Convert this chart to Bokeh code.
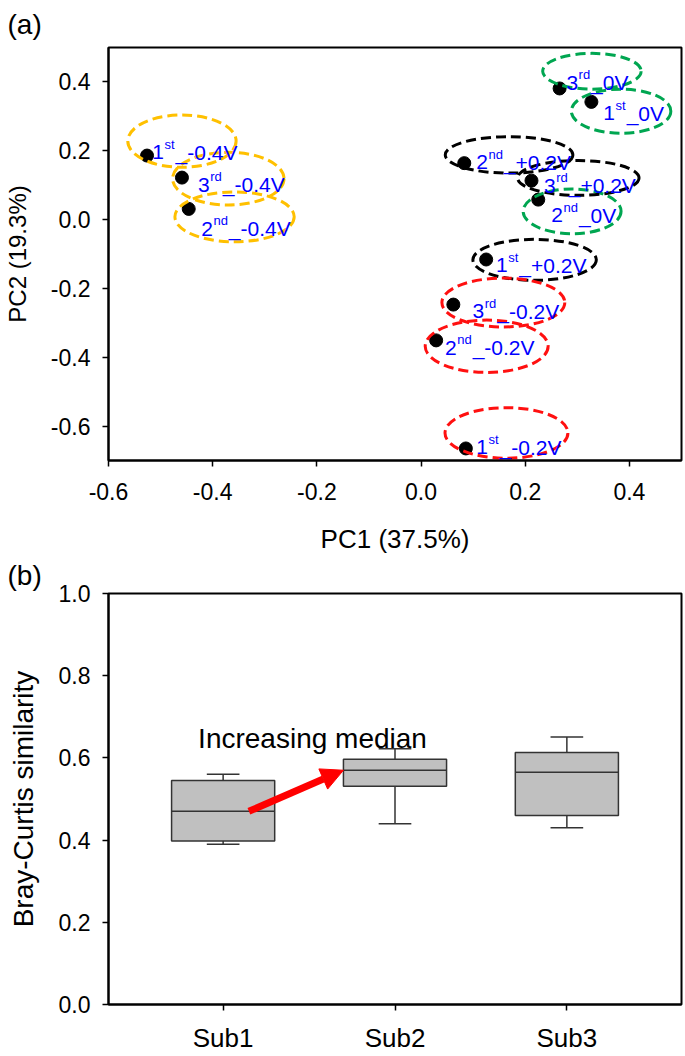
import numpy as np
from bokeh.plotting import figure
from bokeh.layouts import column
from bokeh.models import (ColumnDataSource, FixedTicker, PrintfTickFormatter,
                          Label, Arrow, NormalHead, Range1d)
from bokeh.embed import file_html
from bokeh.resources import INLINE
from bokeh.core.properties import value

FONT = "Liberation Sans"

# ---------------- Panel (a): PCA ----------------
sample_run = ["1st", "3rd", "2nd", "3rd", "1st", "2nd",
              "2nd", "3rd", "1st", "3rd", "2nd", "1st"]
sample_volt = ["-0.4V", "-0.4V", "-0.4V", "0V", "0V", "0V",
               "+0.2V", "+0.2V", "+0.2V", "-0.2V", "-0.2V", "-0.2V"]
pc1 = [-0.526, -0.459, -0.446, 0.266, 0.327, 0.225,
       0.083, 0.212, 0.125, 0.062, 0.029, 0.086]
pc2 = [0.186, 0.122, 0.031, 0.381, 0.342, 0.058,
       0.164, 0.113, -0.116, -0.247, -0.351, -0.665]

# dashed ellipses around each sample (center, width, height in PC units)
ell_x = [-0.459, -0.370, -0.358, 0.328, 0.384, 0.290,
         0.169, 0.302, 0.218, 0.158, 0.126, 0.164]
ell_y = [0.228, 0.119, 0.008, 0.431, 0.315, 0.024,
         0.188, 0.121, -0.117, -0.241, -0.368, -0.620]
ell_w = [0.208, 0.214, 0.229, 0.189, 0.191, 0.188,
         0.245, 0.233, 0.237, 0.236, 0.236, 0.236]
ell_h = [0.152, 0.153, 0.145, 0.104, 0.128, 0.130,
         0.106, 0.101, 0.119, 0.142, 0.152, 0.147]

# label anchors (left, baseline)
lab_x = [-0.516, -0.428, -0.422, 0.279, 0.350, 0.250,
         0.106, 0.236, 0.144, 0.099, 0.046, 0.106]
lab_y = [0.196, 0.101, -0.026, 0.398, 0.309, 0.012,
         0.167, 0.099, -0.132, -0.267, -0.373, -0.662]

volt_colors = {"-0.4V": "#FFC000", "0V": "#00A651",
               "+0.2V": "#000000", "-0.2V": "#FF1010"}

xticks_a = [-0.6, -0.4, -0.2, 0.0, 0.2, 0.4]
yticks_a = [-0.6, -0.4, -0.2, 0.0, 0.2, 0.4]

# ---------------- Panel (b): box plot ----------------
categories = ["Sub1", "Sub2", "Sub3"]
whisker_low = [0.390, 0.440, 0.430]
q1 = [0.398, 0.531, 0.460]
median = [0.470, 0.570, 0.565]
q3 = [0.545, 0.597, 0.613]
whisker_high = [0.560, 0.622, 0.651]
yticks_b = [0.0, 0.2, 0.4, 0.6, 0.8, 1.0]

# ---------------- helpers ----------------
LF, SF = 21, 13
cw = {"s": 0.5, "t": 0.278, "r": 0.333, "d": 0.556, "n": 0.556}


def style_axes(p, tick_size):
    p.xgrid.visible = False
    p.ygrid.visible = False
    p.outline_line_color = "black"
    p.outline_line_width = 2
    p.outline_line_alpha = 1.0
    for ax in (p.xaxis[0], p.yaxis[0]):
        ax.axis_line_width = 2
        ax.axis_line_color = "black"
        ax.major_tick_out = 6
        ax.major_tick_in = 0
        ax.major_tick_line_width = 1.5
        ax.minor_tick_line_color = None
        ax.major_label_text_font = FONT
        ax.major_label_text_font_size = tick_size
        ax.major_label_text_color = "black"
        ax.axis_label_text_font = FONT
        ax.axis_label_text_font_style = "normal"
        ax.axis_label_text_color = "black"


def panel_title(t, text, standoff):
    t.text = text
    t.align = "left"
    t.offset = -101
    t.text_font = FONT
    t.text_font_size = "28px"
    t.text_font_style = "normal"
    t.text_color = "black"
    t.standoff = standoff
    t.vertical_align = "top"


# ---------------- figure (a) ----------------
p1 = figure(width=684, height=556, x_range=Range1d(-0.6, 0.5), y_range=Range1d(-0.7, 0.5),
            output_backend="svg", toolbar_location=None,
            min_border_left=105, min_border_right=3, min_border_top=47, min_border_bottom=94)
style_axes(p1, "23px")
panel_title(p1.title, "(a)", 12)
p1.xaxis.ticker = FixedTicker(ticks=xticks_a)
p1.yaxis.ticker = FixedTicker(ticks=yticks_a)
p1.xaxis.formatter = PrintfTickFormatter(format="%.1f")
p1.yaxis.formatter = PrintfTickFormatter(format="%.1f")
p1.xaxis.axis_label = "PC1 (37.5%)"
p1.yaxis.axis_label = "PC2 (19.3%)"
p1.xaxis.axis_label_text_font_size = "26px"
p1.yaxis.axis_label_text_font_size = "24px"
p1.xaxis.major_label_standoff = 16
p1.yaxis.major_label_standoff = 12
p1.xaxis.axis_label_standoff = 21
p1.yaxis.axis_label_standoff = 17

base = [r[0] for r in sample_run]
sup = [r[1:] for r in sample_run]
rest = ["_" + v for v in sample_volt]
sup_off = [0.556 * LF + 0.5 for _ in base]
rest_off = [0.556 * LF + sum(cw[c] for c in s) * SF + 1.5 for s in sup]

src = ColumnDataSource(dict(
    pc1=pc1, pc2=pc2, ex=ell_x, ey=ell_y, ew=ell_w, eh=ell_h,
    lx=lab_x, ly=lab_y, base=base, sup=sup, rest=rest,
    sup_off=sup_off, rest_off=rest_off,
    color=[volt_colors[v] for v in sample_volt]))

p1.scatter("pc1", "pc2", source=src, size=13, color="black")
p1.ellipse("ex", "ey", width="ew", height="eh", source=src, fill_color=None,
           line_color="color", line_width=3, line_dash="10 5")
p1.text("lx", "ly", text="base", source=src, text_font=value(FONT),
        text_font_size=f"{LF}px", text_color="#0000FF",
        text_align="left", text_baseline="alphabetic")
p1.text("lx", "ly", text="sup", source=src, text_font=value(FONT),
        text_font_size=f"{SF}px", text_color="#0000FF", x_offset="sup_off", y_offset=-8,
        text_align="left", text_baseline="alphabetic")
p1.text("lx", "ly", text="rest", source=src, text_font=value(FONT),
        text_font_size=f"{LF}px", text_color="#0000FF", x_offset="rest_off",
        text_align="left", text_baseline="alphabetic")

# ---------------- figure (b) ----------------
xs = np.arange(1, len(categories) + 1)
p2 = figure(width=684, height=499, x_range=Range1d(0.333, 3.667), y_range=Range1d(0, 1),
            output_backend="svg", toolbar_location=None,
            min_border_left=105, min_border_right=3, min_border_top=37, min_border_bottom=45)
style_axes(p2, "23px")
panel_title(p2.title, "(b)", 2)
p2.xaxis.ticker = FixedTicker(ticks=[int(v) for v in xs])
p2.xaxis.major_label_overrides = {int(v): c for v, c in zip(xs, categories)}
p2.xaxis.major_label_text_font_size = "26px"
p2.xaxis.major_label_standoff = 12
p2.yaxis.ticker = FixedTicker(ticks=yticks_b)
p2.yaxis.formatter = PrintfTickFormatter(format="%.1f")
p2.yaxis.axis_label = "Bray-Curtis similarity"
p2.yaxis.axis_label_text_font_size = "28px"
p2.yaxis.major_label_standoff = 12
p2.yaxis.axis_label_standoff = 17

bsrc = ColumnDataSource(dict(x=xs, lo=whisker_low, q1=q1, med=median, q3=q3, hi=whisker_high))
BOX_W, CAP_W = 0.6, 0.19
LC = "#333333"
p2.segment(x0="x", y0="q3", x1="x", y1="hi", source=bsrc, line_color=LC, line_width=1.5)
p2.segment(x0="x", y0="q1", x1="x", y1="lo", source=bsrc, line_color=LC, line_width=1.5)
p2.segment(x0=xs - CAP_W / 2, y0=whisker_high, x1=xs + CAP_W / 2, y1=whisker_high,
           line_color=LC, line_width=1.5)
p2.segment(x0=xs - CAP_W / 2, y0=whisker_low, x1=xs + CAP_W / 2, y1=whisker_low,
           line_color=LC, line_width=1.5)
p2.vbar(x="x", bottom="q1", top="q3", width=BOX_W, source=bsrc,
        fill_color="#C0C0C0", line_color=LC, line_width=1.5)
p2.segment(x0=xs - BOX_W / 2, y0=median, x1=xs + BOX_W / 2, y1=median,
           line_color=LC, line_width=1.5)

p2.add_layout(Arrow(end=NormalHead(size=22, fill_color="#FF0000", line_color="#FF0000"),
                    x_start=xs[0] + 0.15, y_start=median[0],
                    x_end=xs[1] - BOX_W / 2, y_end=median[1],
                    line_color="#FF0000", line_width=7))
p2.add_layout(Label(x=1.52, y=0.647, text="Increasing median", text_font=FONT,
                    text_font_size="28px", text_align="center",
                    text_baseline="alphabetic", text_color="black"))

layout = column(p1, p2, spacing=0)
open("out.html", "w").write(file_html(layout, INLINE))
